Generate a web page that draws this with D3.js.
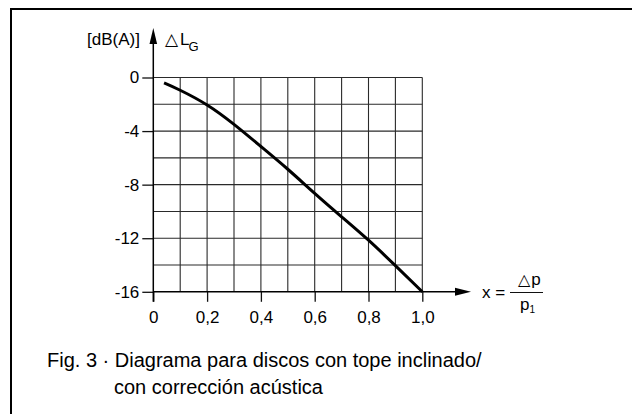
<!DOCTYPE html>
<html><head><meta charset="utf-8">
<script src="https://cdn.jsdelivr.net/npm/d3@7"></script>
<style>
html,body{margin:0;padding:0;background:#fff;}
svg{display:block;}
text{font-family:"Liberation Sans","DejaVu Sans",sans-serif;fill:#000;}
</style></head>
<body>
<svg id="c" width="632" height="414"></svg>
<script>
// Data
const xValues = [0.04, 0.1, 0.2, 0.3, 0.4, 0.5, 0.6, 0.7, 0.8, 0.9, 1.0];
const dLValues = [-0.4, -0.95, -2.05, -3.5, -5.15, -6.85, -8.65, -10.4, -12.15, -14.05, -16];
const xTickValues = [0, 0.2, 0.4, 0.6, 0.8, 1.0];
const xTickLabels = ["0", "0,2", "0,4", "0,6", "0,8", "1,0"];
const yTickValues = [0, -4, -8, -12, -16];
const yTickLabels = ["0", "-4", "-8", "-12", "-16"];
const xGrid = d3.range(0, 11).map(i => i / 10);
const yGrid = d3.range(0, 9).map(i => -2 * i);
const captionLines = ["Fig. 3 · Diagrama para discos con tope inclinado/", "con corrección acústica"];

const svg = d3.select("#c");
const x = d3.scaleLinear().domain([0, 1]).range([153.3, 422.3]);
const y = d3.scaleLinear().domain([0, -16]).range([77.5, 291.8]);

// frame
svg.append("rect").attr("x", 11).attr("y", 9).attr("width", 640).attr("height", 420)
  .attr("fill", "none").attr("stroke", "#000").attr("stroke-width", 2);

// grid
const g = svg.append("g");
g.selectAll("line.v").data(xGrid.slice(1)).join("line")
  .attr("x1", d => x(d)).attr("x2", d => x(d)).attr("y1", y(0)).attr("y2", y(-16))
  .attr("stroke", "#2a2a2a").attr("stroke-width", 1.1);
g.selectAll("line.h").data(yGrid.slice(0, 8)).join("line")
  .attr("x1", x(0)).attr("x2", x(1)).attr("y1", d => y(d)).attr("y2", d => y(d))
  .attr("stroke", "#2a2a2a").attr("stroke-width", 1.1);

// axes
const yAxis = d3.axisLeft(y).tickValues(yTickValues).tickSize(11).tickPadding(3)
  .tickFormat((d, i) => yTickLabels[i]);
const ya = svg.append("g").attr("transform", `translate(${x(0)},0)`).call(yAxis);
const xAxis = d3.axisBottom(x).tickValues(xTickValues).tickSize(10).tickPadding(9)
  .tickFormat((d, i) => xTickLabels[i]);
const xa = svg.append("g").attr("transform", `translate(0,${y(-16)})`).call(xAxis);
[ya, xa].forEach(a => {
  a.select(".domain").remove();
  a.selectAll(".tick line").attr("stroke", "#111").attr("stroke-width", 1.3);
  a.selectAll(".tick text").attr("font-size", 17).attr("font-family", "Liberation Sans, sans-serif").attr("fill", "#000");
});

// axis lines with arrows
svg.append("line").attr("x1", x(0)).attr("x2", x(0)).attr("y1", 40).attr("y2", y(-16) + 10)
  .attr("stroke", "#000").attr("stroke-width", 1.5);
svg.append("path").attr("d", `M${x(0)},28 L${x(0) - 3.8},44 L${x(0) + 3.8},44 Z`).attr("fill", "#000");
svg.append("line").attr("x1", x(0)).attr("x2", 458).attr("y1", y(-16)).attr("y2", y(-16))
  .attr("stroke", "#000").attr("stroke-width", 1.5);
svg.append("path").attr("d", `M471,${y(-16)} L455,${y(-16) - 4} L455,${y(-16) + 4} Z`).attr("fill", "#000");

// curve
const line = d3.line().x((d, i) => x(xValues[i])).y(d => y(d)).curve(d3.curveNatural);
svg.append("path").datum(dLValues).attr("d", line)
  .attr("fill", "none").attr("stroke", "#000").attr("stroke-width", 3).attr("stroke-linecap", "butt");

// axis titles
svg.append("text").attr("x", 140).attr("y", 45).attr("text-anchor", "end").attr("font-size", 17).text("[dB(A)]");
const t = svg.append("text").attr("x", 165).attr("y", 45).attr("font-size", 17);
t.append("tspan").attr("font-family", "DejaVu Sans").attr("font-size", 17).text("△");
t.append("tspan").attr("dx", 2).text("L");
t.append("tspan").attr("font-size", 13).attr("dx", -1).attr("dy", 6).text("G");

svg.append("text").attr("x", 482).attr("y", 298).attr("font-size", 17).text("x =");
svg.append("line").attr("x1", 510).attr("x2", 543).attr("y1", 292.5).attr("y2", 292.5)
  .attr("stroke", "#111").attr("stroke-width", 1.2);
const num = svg.append("text").attr("x", 518).attr("y", 285).attr("font-size", 17);
num.append("tspan").attr("font-family", "DejaVu Sans").attr("font-size", 16).text("△");
num.append("tspan").attr("dx", 1).text("p");
const den = svg.append("text").attr("x", 520).attr("y", 310).attr("font-size", 17);
den.append("tspan").text("p");
den.append("tspan").attr("font-size", 10).attr("dy", 3).text("1");

// caption
svg.selectAll("text.cap").data(captionLines).join("text").attr("class", "cap")
  .attr("x", (d, i) => i === 0 ? 47 : 114).attr("y", (d, i) => i === 0 ? 367 : 394)
  .attr("font-size", 20).text(d => d);
</script>
</body></html>
